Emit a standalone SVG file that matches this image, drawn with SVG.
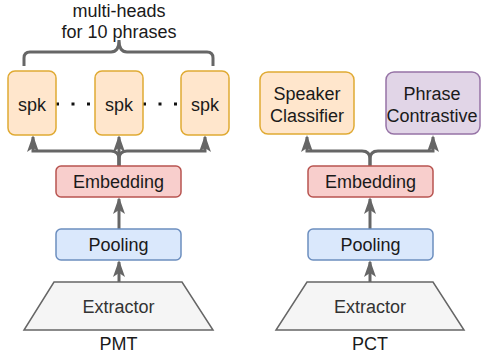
<svg xmlns="http://www.w3.org/2000/svg" width="481" height="356" viewBox="0 0 481 356">
<style>
text{font-family:"Liberation Sans",Arial,sans-serif;font-size:18px;fill:#1a1a1a;text-anchor:middle}
.spk{fill:#ffe6cc;stroke:#e0aa33;stroke-width:1.5}
.emb{fill:#f8cecc;stroke:#b85450;stroke-width:1.5}
.pool{fill:#dae8fc;stroke:#6c8ebf;stroke-width:1.5}
.phr{fill:#e1d5e7;stroke:#9673a6;stroke-width:1.5}
.ext{fill:#f5f5f5;stroke:#666;stroke-width:1.5}
.ext-t{fill:#333}
.c{fill:none;stroke:#666;stroke-width:3}
.dots{fill:none;stroke:#111;stroke-width:3;stroke-dasharray:3 12.5}
</style>
<defs>
<marker id="ah" markerUnits="userSpaceOnUse" viewBox="0 0 17 12" markerWidth="17" markerHeight="12" refX="15" refY="6" orient="auto">
<path d="M0,0 L17,6 L0,12 L4,6 Z" fill="#666"/>
</marker>
</defs>

<g id="connectors">
<path class="c" d="M24,66 V58 Q24,52 30,52 H111 Q119,52 119,40 Q119,52 127,52 H207 Q213,52 213,58 V66"/>
<path class="dots" d="M56,104 H95 M143,104 H181"/>
<path class="c" d="M119,166 V159 Q119,151 111,151 H33 V137" marker-end="url(#ah)"/>
<path class="c" d="M119,166 V159 Q119,151 127,151 H205 V137" marker-end="url(#ah)"/>
<path class="c" d="M119,166 V137" marker-end="url(#ah)"/>
<path class="c" d="M119,229 V199" marker-end="url(#ah)"/>
<path class="c" d="M119,282 V262" marker-end="url(#ah)"/>
<path class="c" d="M370,166 V159 Q370,151 362,151 H307 V137" marker-end="url(#ah)"/>
<path class="c" d="M370,166 V159 Q370,151 378,151 H433 V137" marker-end="url(#ah)"/>
<path class="c" d="M370,229 V199" marker-end="url(#ah)"/>
<path class="c" d="M370,282 V262" marker-end="url(#ah)"/>
</g>

<g id="label-multiheads">
<text x="119" y="17">multi-heads</text>
<text x="119" y="38">for 10 phrases</text>
</g>

<g id="spk1"><rect class="spk" x="8" y="71" width="48" height="64" rx="7"/><text x="32" y="111">spk</text></g>
<g id="spk2"><rect class="spk" x="95" y="71" width="48" height="64" rx="7"/><text x="119" y="111">spk</text></g>
<g id="spk3"><rect class="spk" x="181" y="71" width="48" height="64" rx="7"/><text x="205" y="111">spk</text></g>

<g id="emb-pmt"><rect class="emb" x="56" y="166" width="125" height="31" rx="5"/><text x="118.5" y="188">Embedding</text></g>
<g id="pool-pmt"><rect class="pool" x="56" y="229" width="125" height="31" rx="5"/><text x="118.5" y="251">Pooling</text></g>
<g id="ext-pmt"><path class="ext" d="M54,282 H182 L213,330 H24 Z"/><text class="ext-t" x="118.5" y="313">Extractor</text></g>
<g id="label-pmt"><text x="118.5" y="350">PMT</text></g>

<g id="speaker-classifier"><rect class="spk" x="260" y="72" width="94" height="62" rx="8"/><text x="307" y="100">Speaker</text><text x="307" y="122">Classifier</text></g>
<g id="phrase-contrastive"><rect class="phr" x="386" y="72" width="94" height="62" rx="8"/><text x="432" y="100">Phrase</text><text x="432" y="122">Contrastive</text></g>

<g id="emb-pct"><rect class="emb" x="308" y="166" width="125" height="31" rx="5"/><text x="370.5" y="188">Embedding</text></g>
<g id="pool-pct"><rect class="pool" x="308" y="229" width="125" height="31" rx="5"/><text x="370.5" y="251">Pooling</text></g>
<g id="ext-pct"><path class="ext" d="M307,282 H433 L464,330 H276 Z"/><text class="ext-t" x="370" y="313">Extractor</text></g>
<g id="label-pct"><text x="370" y="350">PCT</text></g>
</svg>
